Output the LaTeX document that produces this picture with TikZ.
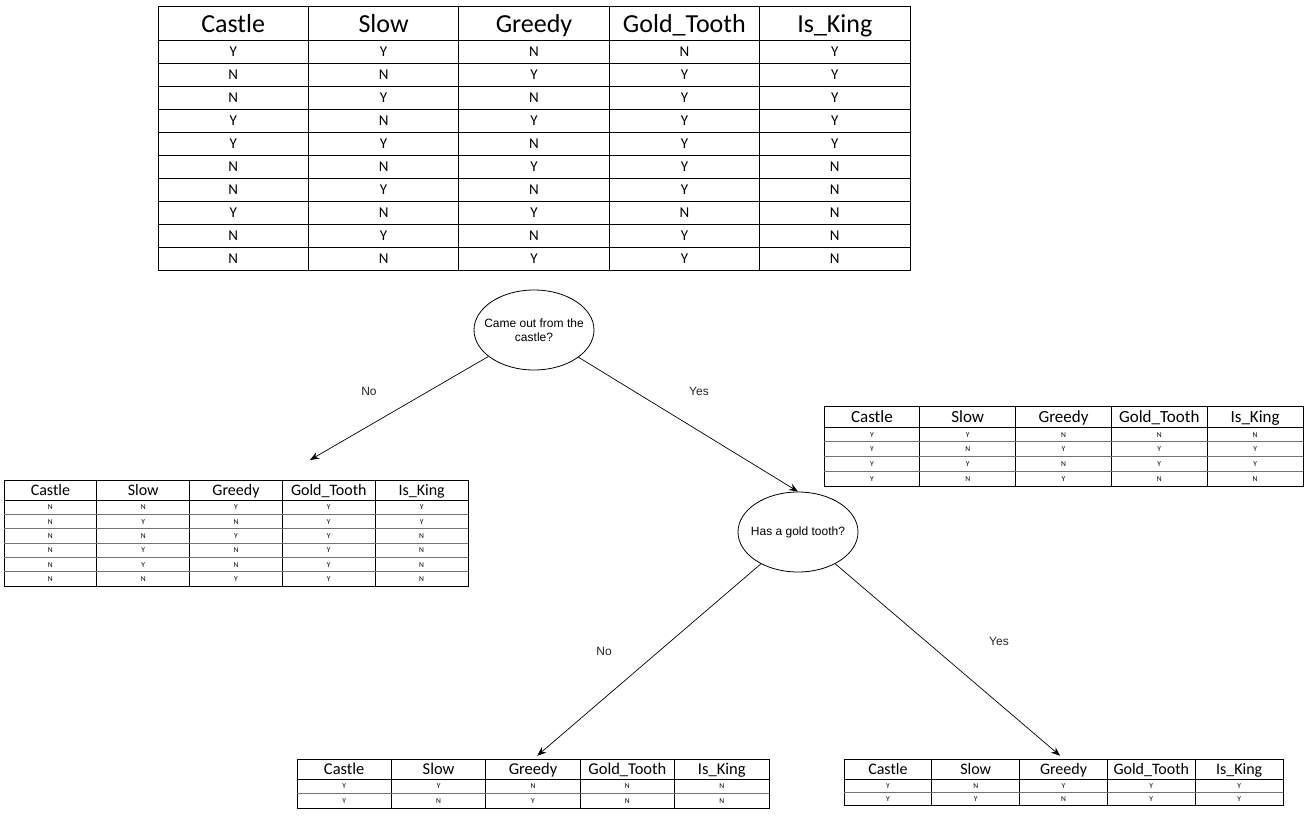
\documentclass[tikz,border=0pt]{standalone}
\usepackage{fontspec}
\setmainfont{Carlito}
\newfontfamily\arialf{Liberation Sans}
\usetikzlibrary{arrows.meta,shapes.geometric}
\tikzset{
  tabbox/.style={draw=black,line width=0.8pt,rectangle,inner sep=0pt},
  tabline/.style={draw=black,line width=0.8pt},
  rowline/.style={draw=black!55,line width=0.7pt},
  decision/.style={draw=black,line width=0.8pt,ellipse,minimum width=120pt,minimum height=80pt,inner sep=-20pt,align=center,font=\arialf\fontsize{12}{14.5}\selectfont},
  edgelabel/.style={font=\arialf\fontsize{12}{14}\selectfont,text=black!85},
  arr/.style={draw=black,line width=0.7pt,-{Stealth[length=9pt,width=7pt]}}
}
% #1 name, #2 x0, #3 x1, #4 ytop, #5 yhead, #6 ybottom, #7 rows, #8 header size, #9 data size
\newcommand\mktab[9]{%
  \pgfmathsetmacro\cw{(#3-#2)/5}%
  \pgfmathsetmacro\rh{(#6-#5)/#7}%
  \pgfmathtruncatemacro\nr{#7-1}%
  \node[tabbox,minimum width={(#3-#2)*1pt},minimum height={(#6-#4)*1pt},anchor=north west] (#1) at (#2,#4) {};
  \draw[tabline] (#2,#5) -- (#3,#5);
  \foreach \k in {1,...,4} \draw[tabline] ({#2+\k*\cw},#4) -- ({#2+\k*\cw},#6);
  \ifnum\nr>0
  \foreach \r in {1,...,\nr} \draw[\rowsty] (#2,{#5+\r*\rh}) -- (#3,{#5+\r*\rh});
  \fi
  \foreach \h [count=\k] in {Castle,Slow,Greedy,Gold\_Tooth,Is\_King}
    \node[anchor=base,inner sep=0pt,font=\fontsize{#8}{#8}\selectfont] (#1-h\k) at ({#2+(\k-0.5)*\cw},{(#4+#5)/2+0.36*#8}) {\h};
  \foreach \a/\b/\c/\d/\e [count=\r] in \tabrows {
    \pgfmathsetmacro\yy{#5+(\r-0.5)*\rh+0.36*#9}
    \foreach \v [count=\k] in {\a,\b,\c,\d,\e}
      \node[anchor=base,inner sep=0pt,font=\fontsize{#9}{#9}\selectfont] (#1-\r-\k) at ({#2+(\k-0.5)*\cw},\yy) {\v};
  }
}
\begin{document}
\begin{tikzpicture}[x=1pt,y=-1pt]
\useasboundingbox (0,0) rectangle (1308,816);
\fill[white] (0,0) rectangle (1308,816);

% main table
\def\rowsty{tabline}
\def\tabrows{Y/Y/N/N/Y, N/N/Y/Y/Y, N/Y/N/Y/Y, Y/N/Y/Y/Y, Y/Y/N/Y/Y, N/N/Y/Y/N, N/Y/N/Y/N, Y/N/Y/N/N, N/Y/N/Y/N, N/N/Y/Y/N}
\mktab{T0}{158}{910}{6}{40}{270}{10}{26}{15}

\def\rowsty{rowline}
% left (No) table
\def\tabrows{N/N/Y/Y/Y, N/Y/N/Y/Y, N/N/Y/Y/N, N/Y/N/Y/N, N/Y/N/Y/N, N/N/Y/Y/N}
\mktab{T1}{4}{468}{480}{500}{586}{6}{16}{7.5}

% right (Yes) table
\def\tabrows{Y/Y/N/N/N, Y/N/Y/Y/Y, Y/Y/N/Y/Y, Y/N/Y/N/N}
\mktab{T2}{824}{1303}{406}{427}{486}{4}{17}{7.5}

% bottom left
\def\tabrows{Y/Y/N/N/N, Y/N/Y/N/N}
\mktab{T3}{297}{769}{759}{779}{808}{2}{16.5}{7.5}

% bottom right
\def\tabrows{Y/N/Y/Y/Y, Y/Y/N/Y/Y}
\mktab{T4}{844}{1283}{759}{779}{805}{2}{16}{7.5}

% decisions
\node[decision] (e1) at (534,330) {Came out from the\\castle?};
\node[decision] (e2) at (798,532) {Has a gold tooth?};

\coordinate (c1) at (310,460);
\draw[arr] (e1) -- (c1);
\draw[arr] (e1) -- (e2.north);
\draw[arr,shorten >=5pt] (e2) -- (T3.north);
\draw[arr,shorten >=5pt] (e2) -- (T4.north);

\node[edgelabel] (l1) at (369,391) {No};
\node[edgelabel] (l2) at (699,391) {Yes};
\node[edgelabel] (l3) at (604,651) {No};
\node[edgelabel] (l4) at (999,641) {Yes};
\end{tikzpicture}
\end{document}
